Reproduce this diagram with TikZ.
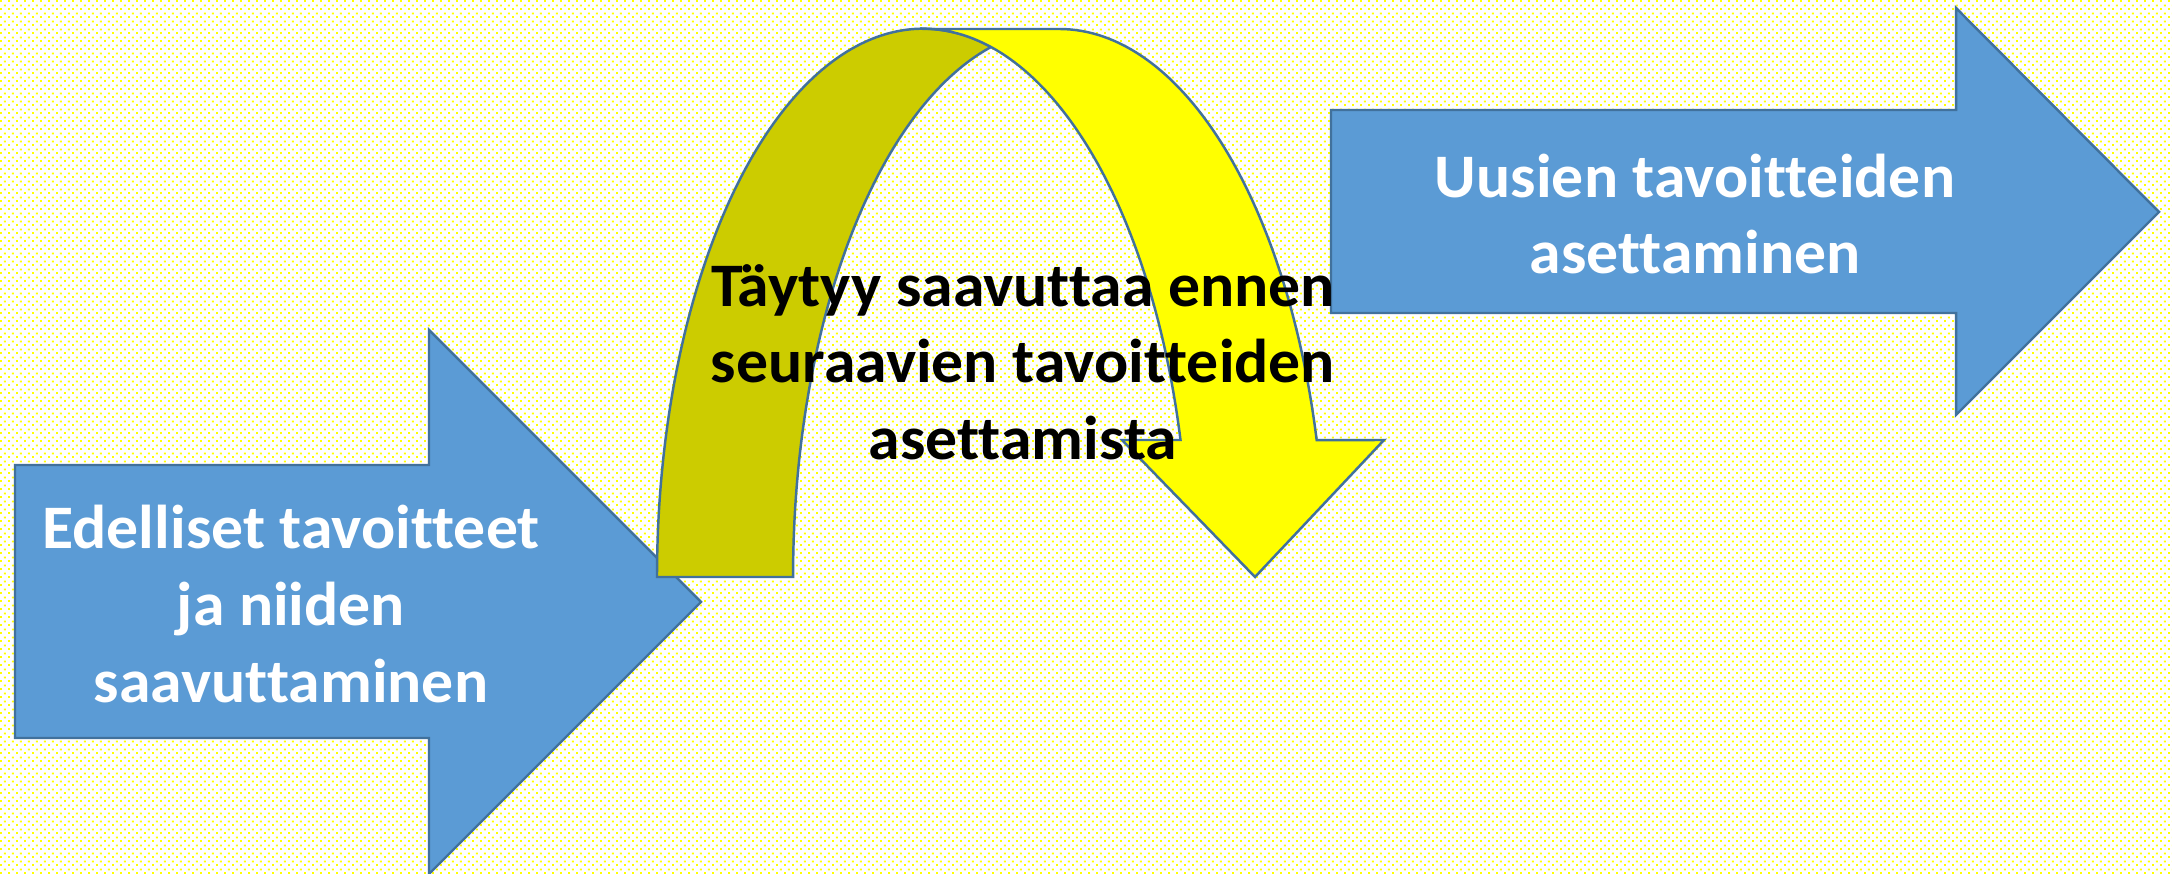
\documentclass[tikz,border=0pt]{standalone}
\usepackage{fontspec}
\setmainfont{Carlito}[Ligatures=NoCommon, FakeStretch=1.03]
\usepackage{tikz}
\usetikzlibrary{patterns}
\definecolor{goalblue}{HTML}{5B9BD5}
\definecolor{edgeblue}{HTML}{41719C}
\definecolor{backolive}{HTML}{CCCC00}
\definecolor{frontyellow}{HTML}{FFFF00}
\definecolor{dotyellow}{HTML}{FFFF00}
\pgfdeclarepatternformonly{goaldots}{\pgfqpoint{0pt}{0pt}}{\pgfqpoint{2.22pt}{2.28pt}}{\pgfqpoint{2.22pt}{2.28pt}}{%
  \pgfpathrectangle{\pgfqpoint{0pt}{0pt}}{\pgfqpoint{0.57pt}{0.57pt}}%
  \pgfpathrectangle{\pgfqpoint{1.11pt}{1.14pt}}{\pgfqpoint{0.57pt}{0.57pt}}%
  \pgfusepath{fill}}

\begin{document}
\begin{tikzpicture}[
  x=0.01cm, y=-0.01cm,
  font=\fontsize{17.6}{21.8}\selectfont\bfseries,
  blockarrow/.style={fill=goalblue, draw=edgeblue, line width=0.7pt},
  bandback/.style={fill=backolive, draw=edgeblue, line width=0.7pt},
  bandfront/.style={fill=frontyellow, draw=edgeblue, line width=0.7pt},
  goaltext/.style={text=white, align=center, inner sep=0pt},
  midtext/.style={text=black, align=center, inner sep=0pt},
]
\useasboundingbox (0,0) rectangle (2172,874);

% Background
\fill[white] (0,0) rectangle (2172,874);
\fill[pattern=goaldots, pattern color=dotyellow] (0,0) rectangle (2172,874);

% Left arrow
\draw[blockarrow] (15,465) -- (429,465) -- (429,330) -- (701,602) -- (429,874)
  -- (429,738) -- (15,738) -- cycle;

% Right arrow
\draw[blockarrow] (1331,110) -- (1956,110) -- (1956,8) -- (2159,212) -- (1956,415)
  -- (1956,313) -- (1331,313) -- cycle;

% Curved arrow, back part
\draw[bandback] (657,577)
  arc[start angle=180, end angle=75.19, x radius=2.66cm, y radius=5.48cm]
  arc[start angle=104.81, end angle=180, x radius=2.66cm, y radius=5.48cm] -- cycle;

% Curved arrow, front part
\draw[bandfront] (923,29) -- (1059,29)
  arc[start angle=90, end angle=14.48, x radius=2.66cm, y radius=5.48cm]
  -- (1384,440) -- (1255,577) -- (1122,440) -- (1180.5,440)
  arc[start angle=14.48, end angle=90, x radius=2.66cm, y radius=5.48cm] -- cycle;

% Texts
\node[goaltext] (prev) at (291,604) {Edelliset tavoitteet\\ja niiden\\saavuttaminen};
\node[goaltext] (next) at (1695,214) {Uusien tavoitteiden\\asettaminen};
\node[midtext] (must) at (1023,362) {Täytyy saavuttaa ennen\\seuraavien tavoitteiden\\asettamista};

\end{tikzpicture}
\end{document}
